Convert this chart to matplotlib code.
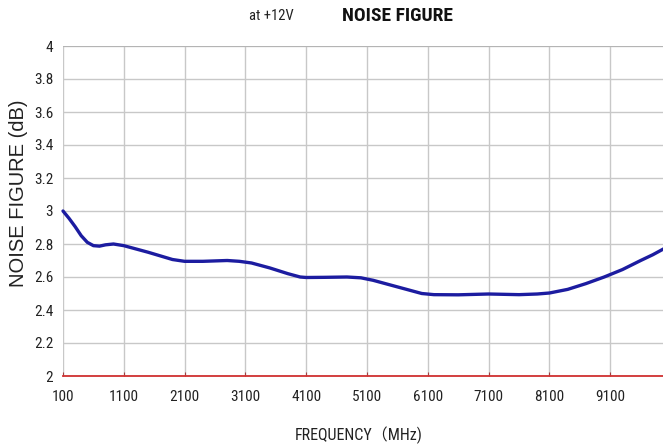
import matplotlib.pyplot as plt

# Noise figure curve (MHz, dB)
freq_mhz = [100, 200, 300, 400, 500, 600, 700, 800, 930, 1100, 1300, 1500,
            1700, 1900, 2100, 2400, 2800, 3000, 3200, 3500, 3800, 4000, 4100,
            4400, 4770, 5000, 5200, 5500, 5800, 6000, 6200, 6600, 7100, 7600,
            7900, 8100, 8400, 8700, 9000, 9300, 9600, 9800, 10000]
noise_db = [3.00, 2.955, 2.905, 2.85, 2.81, 2.79, 2.787, 2.795, 2.80, 2.79,
            2.77, 2.75, 2.728, 2.706, 2.695, 2.695, 2.70, 2.695, 2.685, 2.655,
            2.62, 2.60, 2.597, 2.598, 2.60, 2.595, 2.58, 2.55, 2.52, 2.50,
            2.493, 2.492, 2.497, 2.493, 2.497, 2.503, 2.525, 2.56, 2.60, 2.645,
            2.70, 2.735, 2.775]

x_ticks = [100, 1100, 2100, 3100, 4100, 5100, 6100, 7100, 8100, 9100]
y_ticks = [2, 2.2, 2.4, 2.6, 2.8, 3, 3.2, 3.4, 3.6, 3.8, 4]
y_tick_labels = ["2", "2.2", "2.4", "2.6", "2.8", "3", "3.2", "3.4", "3.6", "3.8", "4"]

narrow = ["Roboto Condensed", "Noto Sans CJK SC", "DejaVu Sans"]

W, H = 663, 446
fig = plt.figure(figsize=(W / 100, H / 100), dpi=100)
ax = fig.add_axes([63 / W, 1 - 376 / H, 1 - 63 / W + 0.003, 330 / H])

ax.plot(freq_mhz, noise_db, color="#1c1ca0", lw=2.4, solid_capstyle="round",
        solid_joinstyle="round", zorder=3, clip_on=False)

ax.set_xlim(100, 10000)
ax.set_ylim(2, 4)
ax.set_xticks(x_ticks)
ax.set_yticks(y_ticks)
ax.set_yticklabels(y_tick_labels)
for lab in ax.get_xticklabels() + ax.get_yticklabels():
    lab.set_fontfamily(narrow)
    lab.set_fontsize(11)
    lab.set_color("#222222")

ax.grid(True, color="#c8c8c8", lw=1.0)
ax.set_axisbelow(True)
for side in ("top", "right", "left"):
    ax.spines[side].set_visible(False)
ax.spines["bottom"].set_color("#d03030")
ax.spines["bottom"].set_linewidth(1.3)
ax.tick_params(axis="x", direction="in", length=3, color="#a04040", pad=10)
ax.tick_params(axis="y", length=0, pad=7)
ax.axhline(4, color="#b0b0b0", lw=1.2, zorder=1)

fig.text(19 / W, 1 - 193 / H, "NOISE FIGURE (dB)", fontsize=14.5, rotation=90,
         family=["Liberation Sans", "DejaVu Sans"], ha="center", va="center",
         color="#222222")
fig.text(359 / W, 1 - 435 / H, "FREQUENCY（MHz)", fontsize=11.5, family=narrow,
         ha="center", va="center", color="#222222")
fig.text(271 / W, 1 - 16 / H, "at +12V", fontsize=10.5, family=narrow,
         ha="center", va="center", color="#222222")
fig.text(397 / W, 1 - 16 / H, "NOISE FIGURE", fontsize=14, family=narrow,
         weight="bold", ha="center", va="center", color="#111111")

fig.savefig("out.png", dpi=100)
